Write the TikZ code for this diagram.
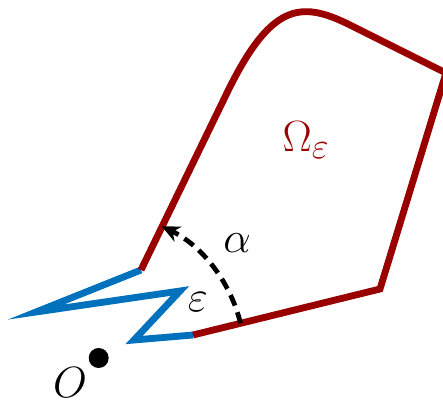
\documentclass[tikz,border=0pt]{standalone}
\usepackage{tikz}
\usetikzlibrary{arrows.meta}
\definecolor{domRed}{RGB}{153,0,0}
\definecolor{cutBlue}{RGB}{0,114,189}

\begin{document}
\begin{tikzpicture}[x=0.02cm,y=0.02cm,font=\fontsize{30}{36}\selectfont]
  \tikzset{bdry/.style={draw=#1,line width=3.9pt,line join=miter},
    angarc/.style={-{Stealth[length=3.6mm,width=3.3mm]},line width=2.7pt,dash pattern=on 6.5pt off 4pt},
    lbl/.style={inner sep=0pt}}
  \useasboundingbox (0,0) rectangle (443,-405);
  % corner and junction points
  \coordinate (jl) at (141,-270);
  \coordinate (jr) at (193,-335);
  \node[circle,fill=black,inner sep=0pt,minimum size=0.4cm] (O) at (98.7,-358) {};
  \draw[bdry=cutBlue] (jl) -- (36,-312) -- (180,-291) -- (134,-340) -- (jr);
  \draw[bdry=domRed] (jl) -- (225,-97) .. controls (270,-3) and (300,0) .. (350,-25) -- (446,-73) -- (380,-289) -- (jr);
  \draw[angarc] (O.center) ++(13.8:146) arc[start angle=13.8,end angle=64.4,radius=146];
  \node[lbl] (alpha) at (237,-243) {$\alpha$};
  \node[lbl] (eps) at (198,-302) {$\varepsilon$};
  \node[lbl,text=domRed] (omega) at (306,-140) {$\Omega_\varepsilon$};
  \node[lbl] (olbl) at (70,-383) {$O$};
\end{tikzpicture}
\end{document}
